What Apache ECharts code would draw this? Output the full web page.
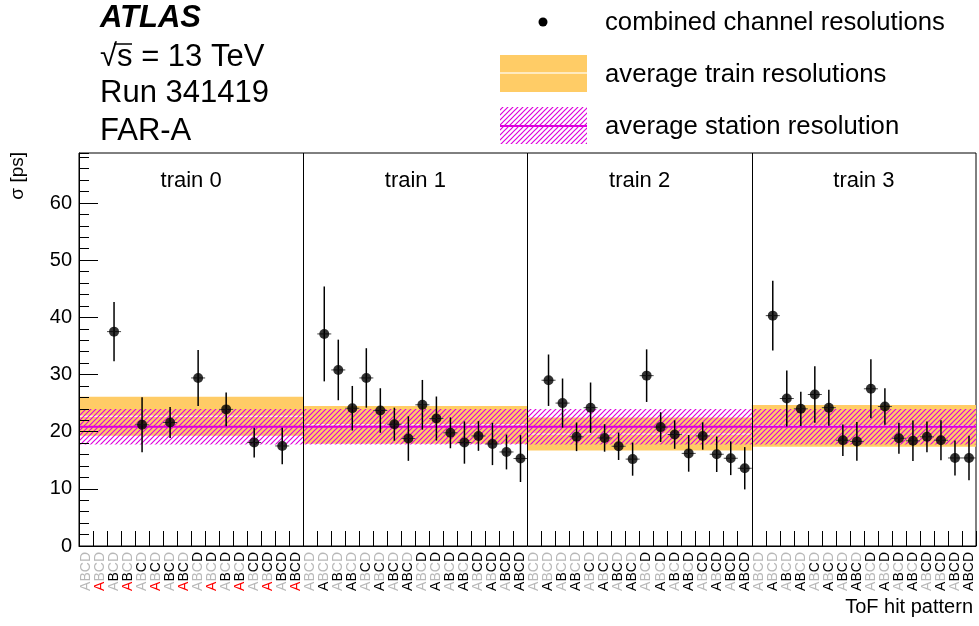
<!DOCTYPE html>
<html>
<head>
<meta charset="utf-8">
<script src="https://cdn.jsdelivr.net/npm/echarts@6/dist/echarts.min.js"></script>
<style>
  html, body { margin: 0; padding: 0; background: #fff; }
  #main { width: 979px; height: 626px; }
</style>
</head>
<body>
<div id="main"></div>
<script>
// train / channel layout
const trainNames = ['train 0', 'train 1', 'train 2', 'train 3']
const channels = ['A', 'B', 'C', 'D']
const hitPatterns = ['', 'A', 'B', 'AB', 'C', 'AC', 'BC', 'ABC', 'D', 'AD', 'BD', 'ABD', 'CD', 'ACD', 'BCD', 'ABCD']
const badChannels = ['A', '', '', '']

// combined channel resolutions [ps], one entry per hit pattern
const train0Sigma = [null, null, 37.5, null, 21.2, null, 21.6, null, 29.4, null, 23.9, null, 18.1, null, 17.5, null]
const train0Err = [null, null, 5.2, null, 4.8, null, 2.7, null, 4.9, null, 2.95, null, 2.6, null, 3.2, null]
const train1Sigma = [null, 37.1, 30.8, 24.1, 29.4, 23.7, 21.3, 18.8, 24.7, 22.3, 19.8, 18.1, 19.25, 17.85, 16.45, 15.3]
const train1Err = [null, 8.3, 5.3, 3.9, 5.2, 3.9, 2.9, 3.9, 4.35, 3.85, 2.7, 3.7, 2.6, 3.7, 3.05, 4.1]
const train2Sigma = [null, 29.0, 25.0, 19.1, 24.2, 18.9, 17.45, 15.2, 29.8, 20.8, 19.5, 16.2, 19.25, 16.05, 15.35, 13.6]
const train2Err = [null, 4.5, 4.3, 2.5, 4.4, 2.4, 2.4, 2.9, 4.6, 2.6, 2.5, 3.2, 2.4, 3.1, 2.95, 3.7]
const train3Sigma = [null, 40.3, 25.8, 24.0, 26.5, 24.2, 18.5, 18.3, 27.5, 24.4, 18.85, 18.4, 19.1, 18.5, 15.4, 15.4]
const train3Err = [null, 6.1, 4.9, 3.0, 4.95, 3.15, 2.75, 3.4, 5.15, 3.2, 2.7, 3.55, 2.7, 3.5, 3.05, 3.9]

// average train resolutions and station resolution [ps]
const trainMean = [22.7, 21.2, 19.6, 21.0]
const trainMeanErr = [3.4, 3.3, 2.9, 3.65]
const stationMean = 20.85
const stationErr = 3.1

const yTicks = [0, 10, 20, 30, 40, 50, 60]

const FONT = 'Liberation Sans, Arial, Helvetica, sans-serif'
const ORANGE = '#ffcc66'
const MAGENTA = '#dd00dd'

const allSigma = [train0Sigma, train1Sigma, train2Sigma, train3Sigma]
const allErr = [train0Err, train1Err, train2Err, train3Err]
const nBins = hitPatterns.length

const points = []
allSigma.forEach((arr, t) => {
  arr.forEach((v, i) => {
    if (v !== null) points.push([t * nBins + i + 0.5, v, allErr[t][i]])
  })
})

const categories = []
trainNames.forEach(() => hitPatterns.forEach(p => categories.push(p)))

function makeHatch() {
  const c = document.createElement('canvas')
  c.width = 5
  c.height = 5
  const g = c.getContext('2d')
  g.strokeStyle = MAGENTA
  g.lineWidth = 1.2
  g.beginPath()
  g.moveTo(0, 5); g.lineTo(5, 0)
  g.moveTo(-1, 1); g.lineTo(1, -1)
  g.moveTo(4, 6); g.lineTo(6, 4)
  g.stroke()
  return c
}
const hatch = makeHatch()

function bandRender(fill, lineColor, lineWidth) {
  return function (params, api) {
    const p0 = api.coord([api.value(0), api.value(3)])
    const p1 = api.coord([api.value(1), api.value(2)])
    const pm = api.coord([api.value(0), api.value(4)])
    return {
      type: 'group',
      children: [
        { type: 'rect', shape: { x: p0[0], y: p0[1], width: p1[0] - p0[0], height: p1[1] - p0[1] }, style: { fill: fill } },
        { type: 'line', shape: { x1: p0[0], y1: pm[1], x2: p1[0], y2: pm[1] }, style: { stroke: lineColor, lineWidth: lineWidth } }
      ]
    }
  }
}

const chart = echarts.init(document.getElementById('main'))

chart.setOption({
  animation: false,
  backgroundColor: '#fff',
  grid: { left: 79, right: 3, top: 153, bottom: 80, show: true, borderColor: '#000', borderWidth: 1 },
  xAxis: [{
    type: 'value',
    min: 0,
    max: 64,
    interval: 1,
    position: 'bottom',
    z: 10,
    axisLine: { lineStyle: { color: '#000', width: 1 } },
    axisTick: { inside: true, length: 15, lineStyle: { color: '#000' } },
    axisLabel: { show: false },
    splitLine: { show: false }
  }, {
    type: 'category',
    data: categories,
    position: 'bottom',
    boundaryGap: true,
    axisLine: { show: false },
    axisTick: { show: false },
    axisLabel: {
      interval: 0,
      rotate: 90,
      margin: 6,
      formatter: function (value, index) {
        const t = Math.floor(index / nBins)
        return channels.map(ch => {
          if (value.indexOf(ch) < 0) return '{g|' + ch + '}'
          return badChannels[t].indexOf(ch) >= 0 ? '{r|' + ch + '}' : '{k|' + ch + '}'
        }).join('')
      },
      rich: {
        g: { color: '#b8b8b8', fontSize: 14, fontFamily: FONT },
        k: { color: '#000', fontSize: 14, fontFamily: FONT },
        r: { color: '#ff0000', fontSize: 14, fontFamily: FONT }
      }
    }
  }],
  yAxis: [{
    type: 'value',
    min: 0,
    max: 68.75,
    interval: 10,
    position: 'left',
    z: 10,
    axisLine: { show: true, lineStyle: { color: '#000' } },
    axisTick: { inside: true, length: 19, lineStyle: { color: '#000' } },
    axisLabel: {
      color: '#000', fontSize: 20, fontFamily: FONT, margin: 7, showMaxLabel: false,
      formatter: v => (yTicks.indexOf(v) >= 0 ? String(v) : '')
    },
    splitLine: { show: false }
  }, {
    type: 'value',
    min: 0,
    max: 68.75,
    interval: 2,
    position: 'left',
    z: 10,
    axisLine: { show: false },
    axisTick: { inside: true, length: 10, lineStyle: { color: '#000' } },
    axisLabel: { show: false },
    splitLine: { show: false }
  }],
  series: [{
    name: 'average train resolutions',
    type: 'custom',
    z: 1,
    renderItem: bandRender(ORANGE, '#fff4de', 1.5),
    data: trainMean.map((m, t) => [t * nBins, (t + 1) * nBins, m - trainMeanErr[t], m + trainMeanErr[t], m])
  }, {
    name: 'average station resolution',
    type: 'custom',
    z: 2,
    renderItem: bandRender({ image: hatch, repeat: 'repeat' }, MAGENTA, 2),
    data: [[0, trainNames.length * nBins, stationMean - stationErr, stationMean + stationErr, stationMean]]
  }, {
    name: 'errors',
    type: 'custom',
    z: 3,
    renderItem: function (params, api) {
      const x = api.value(0), v = api.value(1), e = api.value(2)
      const top = api.coord([x, v + e])
      const bot = api.coord([x, v - e])
      const l = api.coord([x - 0.5, v])
      const r = api.coord([x + 0.5, v])
      return {
        type: 'group',
        children: [
          { type: 'line', shape: { x1: top[0], y1: top[1], x2: bot[0], y2: bot[1] }, style: { stroke: '#000', lineWidth: 1.5 } },
          { type: 'line', shape: { x1: l[0], y1: l[1], x2: r[0], y2: r[1] }, style: { stroke: '#444', lineWidth: 1 } }
        ]
      }
    },
    data: points
  }, {
    name: 'combined channel resolutions',
    type: 'scatter',
    z: 4,
    symbol: 'circle',
    symbolSize: 10,
    itemStyle: { color: '#000' },
    data: points.map(p => [p[0], p[1]]),
    markLine: {
      silent: true,
      symbol: 'none',
      label: { show: false },
      lineStyle: { color: '#000', width: 1, type: 'solid' },
      data: [1, 2, 3].map(t => ({ xAxis: t * nBins }))
    }
  }, {
    name: 'train labels',
    type: 'custom',
    z: 5,
    renderItem: function (params, api) {
      const p = api.coord([api.value(0), 63.8])
      return {
        type: 'text',
        x: p[0],
        y: p[1],
        style: { text: trainNames[params.dataIndex], fill: '#000', font: '22px ' + FONT, align: 'center', verticalAlign: 'middle' }
      }
    },
    data: trainNames.map((n, t) => [t * nBins + nBins / 2, 63.8])
  }],
  graphic: [
    { type: 'text', x: 100, y: 18, style: { text: 'ATLAS', fill: '#000', font: 'italic bold 31px ' + FONT, verticalAlign: 'middle' } },
    { type: 'text', x: 100, y: 57, style: { text: '\u221As = 13 TeV', fill: '#000', font: '31px ' + FONT, verticalAlign: 'middle' } },
    { type: 'line', shape: { x1: 114, y1: 44, x2: 132, y2: 44 }, style: { stroke: '#000', lineWidth: 1.5 } },
    { type: 'text', x: 100, y: 93, style: { text: 'Run 341419', fill: '#000', font: '31px ' + FONT, verticalAlign: 'middle' } },
    { type: 'text', x: 100, y: 131, style: { text: 'FAR-A', fill: '#000', font: '31px ' + FONT, verticalAlign: 'middle' } },

    { type: 'circle', shape: { cx: 543, cy: 22, r: 4.5 }, style: { fill: '#000' } },
    { type: 'text', x: 605, y: 23, style: { text: 'combined channel resolutions', fill: '#000', font: '25.7px ' + FONT, verticalAlign: 'middle' } },
    { type: 'rect', shape: { x: 500, y: 55, width: 87, height: 37 }, style: { fill: ORANGE } },
    { type: 'line', shape: { x1: 500, y1: 73, x2: 587, y2: 73 }, style: { stroke: '#fff4de', lineWidth: 1.5 } },
    { type: 'text', x: 605, y: 75, style: { text: 'average train resolutions', fill: '#000', font: '25.7px ' + FONT, verticalAlign: 'middle' } },
    { type: 'rect', shape: { x: 500, y: 107, width: 87, height: 37 }, style: { fill: { image: hatch, repeat: 'repeat' } } },
    { type: 'line', shape: { x1: 500, y1: 126, x2: 587, y2: 126 }, style: { stroke: MAGENTA, lineWidth: 2 } },
    { type: 'text', x: 605, y: 127, style: { text: 'average station resolution', fill: '#000', font: '25.7px ' + FONT, verticalAlign: 'middle' } },

    { type: 'text', x: 18, y: 152, rotation: Math.PI / 2, style: { text: '\u03C3 [ps]', fill: '#000', font: '19px ' + FONT, align: 'right', verticalAlign: 'middle' } },
    { type: 'text', x: 973, y: 607, style: { text: 'ToF hit pattern', fill: '#000', font: '20px ' + FONT, align: 'right', verticalAlign: 'middle' } }
  ]
})
</script>
</body>
</html>
